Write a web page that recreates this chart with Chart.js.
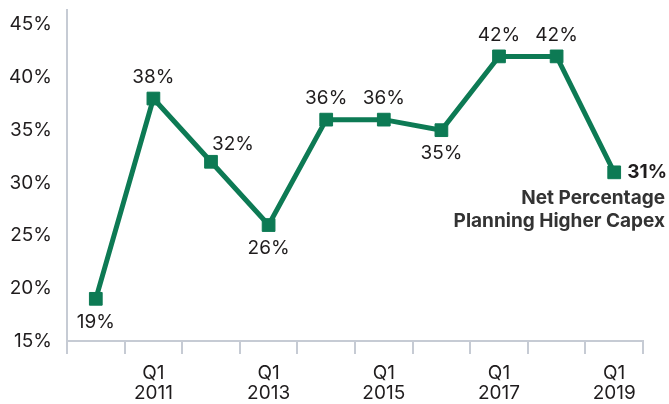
<!DOCTYPE html>
<html>
<head>
<meta charset="utf-8">
<script src="https://cdn.jsdelivr.net/npm/chart.js@4/dist/chart.umd.min.js"></script>
<style>
  html, body { margin: 0; padding: 0; background: #ffffff; }
  #wrap { width: 669px; height: 404px; position: relative; }
</style>
</head>
<body>
<div id="wrap"><canvas id="chart"></canvas></div>
<script>
// Survey years (one reading each Q1)
const years = ['2010', '2011', '2012', '2013', '2014', '2015', '2016', '2017', '2018', '2019'];
// Net percentage of firms planning higher capital expenditures
const netPctHigherCapex = [19, 38, 32, 26, 36, 36, 35, 42, 42, 31];
// Y axis tick values (percent)
const yTickValues = [15, 20, 25, 30, 35, 40, 45];

const GREEN = '#0d7a54';
const AXIS = '#c6cbd4';
const TEXT = '#1f1c1d';
const FONT = 'Inter, "Open Sans", sans-serif';
const FS = 19;

// Where each value label sits relative to its point
const labelPlacement = ['below', 'above', 'aboveRight', 'below', 'above', 'above', 'below', 'above', 'above', 'right'];

const valueLabels = {
  id: 'valueLabels',
  afterDatasetsDraw(chart) {
    const ctx = chart.ctx;
    const meta = chart.getDatasetMeta(0);
    ctx.save();
    ctx.textBaseline = 'middle';
    meta.data.forEach((pt, i) => {
      const txt = netPctHigherCapex[i] + '%';
      const place = labelPlacement[i];
      ctx.fillStyle = TEXT;
      ctx.font = '400 ' + FS + 'px ' + FONT;
      ctx.textAlign = 'center';
      let x = pt.x, y = pt.y;
      if (place === 'above') { y -= 21; }
      else if (place === 'below') { y += 23; }
      else if (place === 'aboveRight') { x += 22; y -= 18; }
      else if (place === 'right') {
        ctx.font = '700 ' + FS + 'px ' + FONT;
        ctx.textAlign = 'left';
        x += 13;
      }
      ctx.fillText(txt, x, y);
      if (place === 'right') {
        ctx.fillStyle = '#333333';
        ctx.textAlign = 'right';
        ctx.fillText('Net Percentage', 665, pt.y + 26);
        ctx.fillText('Planning Higher Capex', 665, pt.y + 49);
      }
    });
    ctx.restore();
  }
};

new Chart(document.getElementById('chart'), {
  type: 'line',
  data: {
    labels: years,
    datasets: [{
      data: netPctHigherCapex,
      borderColor: GREEN,
      backgroundColor: GREEN,
      borderWidth: 5,
      tension: 0,
      pointStyle: 'rect',
      pointRadius: 9,
      pointBorderWidth: 1,
      pointBorderColor: GREEN,
      pointBackgroundColor: GREEN,
      pointHoverRadius: 9
    }]
  },
  options: {
    responsive: true,
    maintainAspectRatio: false,
    animation: false,
    events: [],
    layout: { padding: { top: 8, right: 26, left: 0, bottom: 0 } },
    plugins: {
      legend: { display: false },
      tooltip: { enabled: false }
    },
    scales: {
      x: {
        type: 'category',
        offset: true,
        grid: {
          display: true,
          offset: true,
          drawOnChartArea: false,
          drawTicks: true,
          tickLength: 13,
          color: AXIS,
          lineWidth: 2
        },
        border: { display: true, color: AXIS, width: 2 },
        ticks: {
          autoSkip: false,
          maxRotation: 0,
          padding: 9,
          color: TEXT,
          font: { family: FONT, size: FS, lineHeight: 1.05 },
          callback: (v, i) => (i % 2 === 1 ? ['Q1', years[i]] : '')
        },
        afterFit: (s) => { s.height = 63; s.paddingLeft = 0; s.paddingRight = 0; }
      },
      y: {
        min: 15,
        max: 46.4,
        grid: { display: true, drawOnChartArea: false, drawTicks: false, color: 'rgba(0,0,0,0)' },
        border: { display: true, color: AXIS, width: 2 },
        ticks: {
          padding: 15,
          color: TEXT,
          font: { family: FONT, size: FS },
          callback: (v) => v + '%'
        },
        afterBuildTicks: (s) => { s.ticks = yTickValues.map(v => ({ value: v })); },
        afterFit: (s) => { s.width = 67; s.paddingTop = 0; s.paddingBottom = 0; }
      }
    }
  },
  plugins: [valueLabels]
});
</script>
</body>
</html>
